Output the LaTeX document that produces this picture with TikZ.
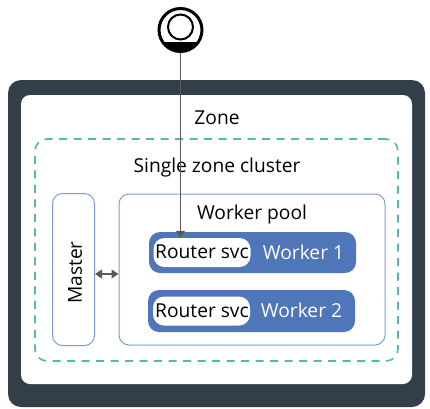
\documentclass[tikz,border=0pt]{standalone}
\usepackage{fontspec}
\setmainfont{Open Sans}
\usepackage{tikz}
\usetikzlibrary{arrows.meta}
\definecolor{slatedark}{HTML}{323F4A}
\definecolor{workerblue}{HTML}{4F76B8}
\definecolor{poolblue}{HTML}{7F9DD2}
\definecolor{dashgreen}{HTML}{55BAA2}
\definecolor{linkgray}{HTML}{5A5A5A}
\tikzset{
	box/.style={draw, rounded corners=#1, inner sep=0pt},
	label/.style={font=\fontsize{19.2}{21}\selectfont, inner sep=0pt},
	link/.style={draw=linkgray, line width=1.2pt, -{Triangle[width=9pt,length=7pt]}}
}

\begin{document}
\begin{tikzpicture}[x=1pt, y=-1pt]
		%%%%% START %%%%%
		
		\useasboundingbox (0, 0) rectangle (430, 408);
		
		\node[box=13pt, draw=none, fill=slatedark, minimum width=417pt, minimum height=327pt] (region) at (216.5, 243.5) {};
		\node[box=9pt, draw=none, fill=white, minimum width=391pt, minimum height=289pt] (zone) at (216.5, 239.5) {};
		\node[box=12pt, draw=dashgreen, line width=1.6pt, dash pattern=on 8pt off 6.5pt, minimum width=363pt, minimum height=222pt] (cluster) at (216.5, 250) {};
		
		\node[label] (zonetext) at (217, 118) {Zone};
		\node[label] (clustertext) at (217, 168) {Single zone cluster};
		
		\node[box=10pt, draw=poolblue, line width=1pt, minimum width=42pt, minimum height=152pt] (master) at (73.5, 269.5) {};
		\node[label, rotate=90] (mastertext) at (75, 272.5) {Master};
		
		\node[box=10pt, draw=poolblue, line width=1pt, minimum width=266pt, minimum height=151pt] (pool) at (252, 269.5) {};
		\node[label] (pooltext) at (252, 215) {Worker pool};
		
		\node[box=11pt, draw=none, fill=workerblue, minimum width=207pt, minimum height=41pt] (workerone) at (252.5, 252.5) {};
		\node[box=11pt, draw=none, fill=white, minimum width=97pt, minimum height=29pt] (routerone) at (202, 252.5) {};
		\node[label] at (202, 252) {Router svc};
		\node[label, text=white] (workeronetext) at (303.5, 252) {Worker 1};
		
		\node[box=11pt, draw=none, fill=workerblue, minimum width=207pt, minimum height=42pt] (workertwo) at (251.5, 311) {};
		\node[box=11pt, draw=none, fill=white, minimum width=97pt, minimum height=29pt] (routertwo) at (201.5, 311) {};
		\node[label] at (202, 311) {Router svc};
		\node[label, text=white] (workertwotext) at (301.5, 310) {Worker 2};
		
		\node[circle, draw=black, fill=white, line width=3pt, minimum size=43pt, inner sep=0pt] (user) at (180.5, 30) {};
		\node[circle, draw=black, line width=2pt, minimum size=25pt, inner sep=0pt] (head) at (180.5, 27) {};
		\begin{scope}
			\clip (180.5, 30) circle (20.5pt);
			\fill[black] (155, 42) rectangle (205, 55);
		\end{scope}
		
		\coordinate (linkmid) at (107, 274);
		
		\draw[link] (user.south) -- (user.south |- routerone.north);
		\draw[link, {Triangle[width=9pt,length=7pt]}-{Triangle[width=9pt,length=7pt]}] (master.east |- linkmid) -- (pool.west |- linkmid);
		
		%%%%% END %%%%%
	\end{tikzpicture}
\end{document}
